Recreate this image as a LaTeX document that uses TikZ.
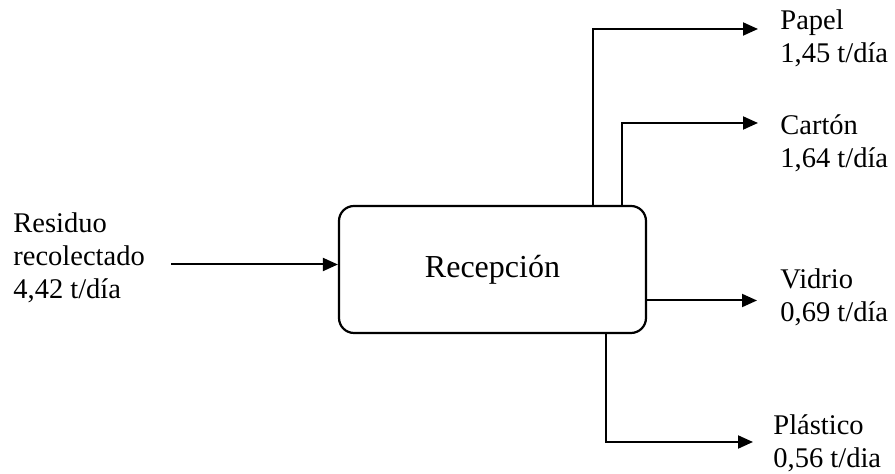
\documentclass[tikz,border=0pt]{standalone}
\usepackage{fontspec}
\setmainfont{Liberation Serif}
\usetikzlibrary{arrows.meta}
\begin{document}
\begin{tikzpicture}[x=0.5pt,y=-0.5pt,
  lbl/.style={anchor=base west,inner sep=0pt,align=left,
    font=\fontsize{14.25pt}{16.5pt}\selectfont},
  procbox/.style={draw,line width=1.1pt,rounded corners=7.5pt,
    minimum width=153.5pt,minimum height=63.5pt,inner sep=0pt,
    font=\fontsize{16pt}{18pt}\selectfont},
  flow/.style={line width=1pt,-{Triangle[length=7.5pt,width=6.5pt]}},
  riser/.style={line width=0.6pt}]
\useasboundingbox (0,0) rectangle (895,474);

% central process
\node[procbox] (rec) at (492.5,269.5) {Recepción};

% stream labels (anchored on the baseline of their last line)
\node[lbl] (inp) at (13,299) {Residuo\\recolectado\\4,42 t/día};
\node[lbl] (pap) at (780,63) {Papel\\1,45 t/día};
\node[lbl] (car) at (780,168) {Cartón\\1,64 t/día};
\node[lbl] (vid) at (780,322) {Vidrio\\0,69 t/día};
\node[lbl] (pla) at (773,468) {Plástico\\0,56 t/dia};

% arrow ends and bends
\coordinate (inS) at (171,264.5);
\coordinate (papC) at (593,29);
\coordinate (papT) at (758,29);
\coordinate (carC) at (622,123);
\coordinate (carT) at (758,123);
\coordinate (vidT) at (757,300.5);
\coordinate (plaC) at (606,442);
\coordinate (plaT) at (753,442);

% input
\draw[flow] (inS) -- (inS -| rec.west);

% outputs
\draw[riser] (rec.north -| papC) -- (papC);
\draw[flow] ([xshift=-0.3pt]papC) -- (papT);
\draw[riser] (rec.north -| carC) -- (carC);
\draw[flow] ([xshift=-0.3pt]carC) -- (carT);
\draw[flow] (rec.east |- vidT) -- (vidT);
\draw[riser] (rec.south -| plaC) -- (plaC);
\draw[flow] ([xshift=-0.3pt]plaC) -- (plaT);
\end{tikzpicture}
\end{document}
